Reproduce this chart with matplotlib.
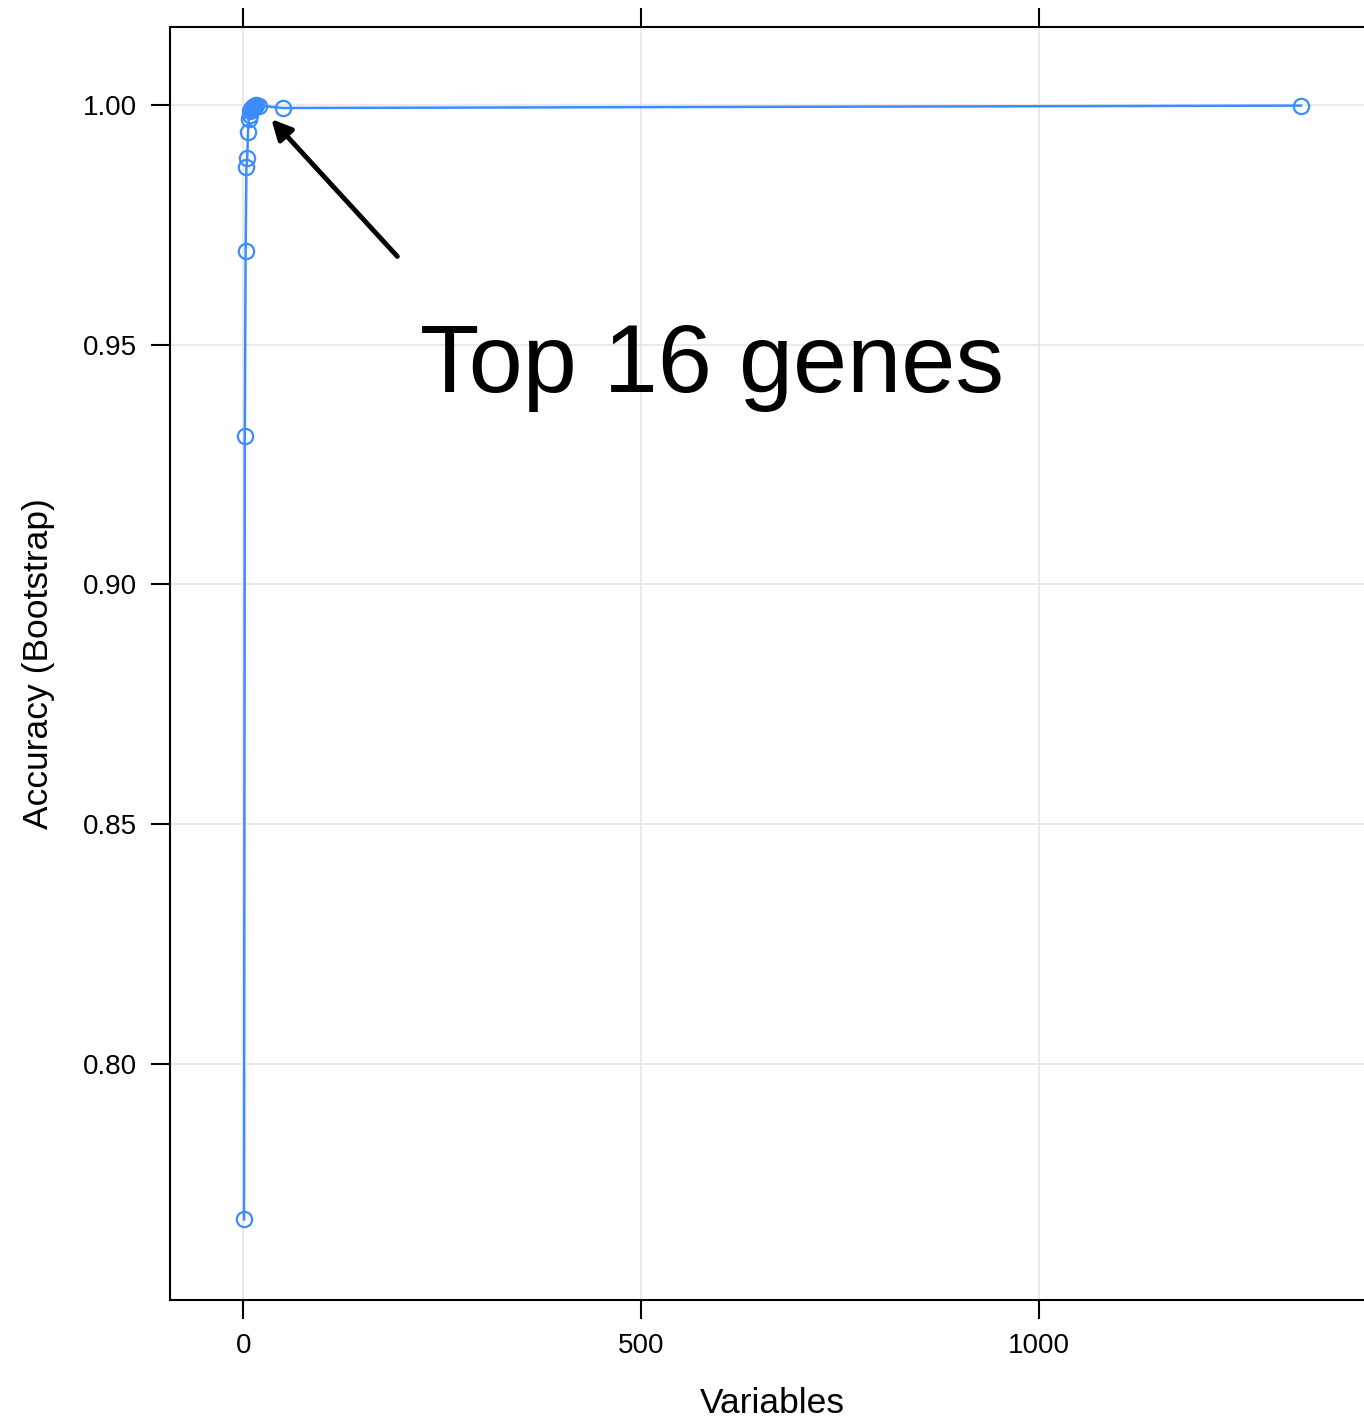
import matplotlib.pyplot as plt

plt.rcParams['font.family'] = ['Liberation Sans', 'DejaVu Sans']

# number of variables vs bootstrap accuracy
variables = [1, 2, 3, 4, 5, 6, 7, 8, 9, 10, 11, 12, 13, 14, 15, 16, 20, 50, 1329]
accuracy = [0.7675, 0.9310, 0.9696, 0.9870, 0.9890, 0.9943, 0.9972, 0.9980,
            0.9988, 0.9992, 0.9995, 0.9996, 0.9997, 0.9998, 0.9999, 1.0000,
            0.9999, 0.9994, 0.9999]
best = 16

xticks = [0, 500, 1000]
yticks = [0.80, 0.85, 0.90, 0.95, 1.00]

fig = plt.figure(figsize=(13.64, 14.19), dpi=100)
ax = fig.add_axes([170 / 1364, 1 - 1300 / 1419, (1375 - 170) / 1364, (1300 - 27) / 1419])

blue = '#3d8cff'
ax.plot(variables, accuracy, color=blue, lw=1.8, marker='o', ms=11,
        mfc='none', mec=blue, mew=1.6, zorder=3)
ib = variables.index(best)
ax.plot([variables[ib]], [accuracy[ib]], 'o', color=blue, ms=11, zorder=4)

ax.set_xlim(-92, 1422)
ax.set_ylim(0.7507, 1.0163)
ax.set_xticks(xticks)
ax.set_yticks(yticks)
ax.set_xticklabels([str(t) for t in xticks])
ax.set_yticklabels(['%.2f' % t for t in yticks])
ax.grid(True, color='#e6e6e6', lw=1.2, zorder=0)
ax.set_axisbelow(True)

ax.tick_params(axis='both', direction='out', length=14, width=1.5, labelsize=20,
               colors='black', pad=10)
ax.tick_params(axis='x', top=True, labeltop=False)
for s in ax.spines.values():
    s.set_linewidth(1.5)

ax.set_xlabel('Variables', fontsize=25.5, labelpad=20)
ax.set_ylabel('Accuracy (Bootstrap)', fontsize=25.5, labelpad=20)

ax.annotate('', xy=(33, 0.9975), xytext=(196, 0.9680),
            arrowprops=dict(arrowstyle='-|>', color='black', lw=3.5,
                            mutation_scale=30))
ax.text(222, 0.9402, 'Top 16 genes', fontsize=70, color='black')

fig.savefig('out.png', dpi=100)
